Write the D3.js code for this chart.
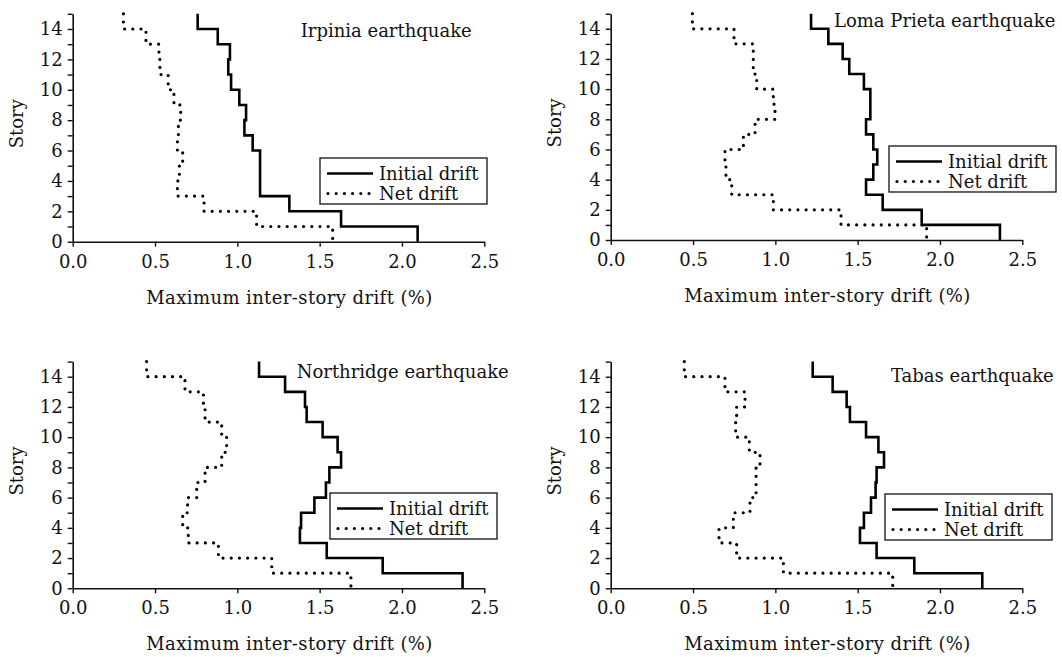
<!DOCTYPE html>
<html>
<head>
<meta charset="utf-8">
<script src="https://cdn.jsdelivr.net/npm/d3@7"></script>
<style>
  html, body { margin: 0; padding: 0; background: #fff; }
  svg text { font-family: "DejaVu Serif", serif; fill: #111; }
</style>
</head>
<body>
<svg id="chart" width="1062" height="657"></svg>
<script>
// ---- Data (story index 0 = bottom, 14 = top) ----
const stories = d3.range(0, 15);
const xTicks = [0, 0.5, 1.0, 1.5, 2.0, 2.5];
const yTicks = d3.range(0, 16);
const yLabelTicks = [0, 2, 4, 6, 8, 10, 12, 14];
const seriesNames = ["Initial drift", "Net drift"];
const titles = ["Irpinia earthquake", "Loma Prieta earthquake", "Northridge earthquake", "Tabas earthquake"];

const irpiniaInitial = [2.095, 1.63, 1.316, 1.138, 1.138, 1.138, 1.093, 1.043, 1.053, 1.012, 0.962, 0.945, 0.955, 0.881, 0.759];
const irpiniaNet     = [1.579, 1.117, 0.798, 0.636, 0.648, 0.668, 0.636, 0.642, 0.656, 0.615, 0.58, 0.53, 0.524, 0.445, 0.308];

const lomaInitial = [2.364, 1.889, 1.652, 1.551, 1.595, 1.619, 1.595, 1.551, 1.577, 1.577, 1.538, 1.449, 1.409, 1.322, 1.217];
const lomaNet     = [1.919, 1.399, 0.988, 0.735, 0.70, 0.694, 0.806, 0.877, 0.998, 0.988, 0.887, 0.866, 0.866, 0.749, 0.496];

const northridgeInitial = [2.368, 1.883, 1.543, 1.38, 1.387, 1.468, 1.538, 1.559, 1.63, 1.609, 1.518, 1.421, 1.411, 1.29, 1.132];
const northridgeNet     = [1.69, 1.209, 0.885, 0.702, 0.668, 0.698, 0.753, 0.804, 0.905, 0.935, 0.905, 0.804, 0.794, 0.682, 0.449];

const tabasInitial = [2.257, 1.844, 1.615, 1.514, 1.538, 1.581, 1.609, 1.615, 1.66, 1.626, 1.551, 1.453, 1.433, 1.348, 1.227];
const tabasNet     = [1.713, 1.049, 0.765, 0.658, 0.745, 0.846, 0.883, 0.883, 0.907, 0.842, 0.759, 0.765, 0.816, 0.694, 0.447];

const panelData = [
  [irpiniaInitial, irpiniaNet],
  [lomaInitial, lomaNet],
  [northridgeInitial, northridgeNet],
  [tabasInitial, tabasNet]
];

// ---- Layout ----
const panels = [
  { x0: 72.7,  x1: 484.3,  yTop: 13.8,  yBot: 241.7, title: { x: 300.7, y: 36.7 }, legend: { x: 320, y: 158 } },
  { x0: 610.7, x1: 1022.3, yTop: 13.7,  yBot: 240.0, title: { x: 834,   y: 26.7 }, legend: { x: 889, y: 146 } },
  { x0: 72.7,  x1: 484.3,  yTop: 361.6, yBot: 588.3, title: { x: 296.7, y: 377.7 }, legend: { x: 330, y: 493 } },
  { x0: 610.7, x1: 1022.3, yTop: 361.6, yBot: 588.3, title: { x: 891,   y: 382.3 }, legend: { x: 885, y: 494 } }
];

const svg = d3.select("#chart");
const FS = 18;

panels.forEach((p, pi) => {
  const x = d3.scaleLinear().domain([0, 2.5]).range([p.x0, p.x1]);
  const y = d3.scaleLinear().domain([0, 15]).range([p.yBot, p.yTop]);
  const g = svg.append("g");

  // step paths
  const line = d3.line().x(d => x(d[0])).y(d => y(d[1]));
  const stepPts = vals => {
    const pts = [];
    for (let i = stories.length - 1; i >= 0; i--) {
      pts.push([vals[i], stories[i] + 1]);
      pts.push([vals[i], stories[i]]);
    }
    return pts;
  };
  const [initial, net] = panelData[pi];

  // x axis
  const xa = g.append("g").attr("transform", `translate(0,${p.yBot})`)
    .call(d3.axisBottom(x).tickValues(xTicks).tickFormat(d3.format(".1f")).tickSize(5).tickSizeOuter(0));
  xa.select(".domain").attr("stroke", "#111").attr("stroke-width", 1.6);
  xa.selectAll(".tick line").attr("stroke", "#111").attr("stroke-width", 1.4);
  xa.selectAll(".tick text").attr("y", 26).attr("dy", null)
    .style("font-size", FS + "px").style("font-family", "DejaVu Serif");

  // y axis
  const ya = g.append("g").attr("transform", `translate(${p.x0},0)`)
    .call(d3.axisLeft(y).tickValues(yTicks).tickFormat(d => yLabelTicks.includes(d) ? d : "").tickSize(5).tickSizeOuter(0).tickPadding(5));
  ya.select(".domain").attr("stroke", "#111").attr("stroke-width", 1.6);
  ya.selectAll(".tick line").attr("stroke", "#111").attr("stroke-width", 1.4);
  ya.selectAll(".tick text").style("font-size", FS + "px").style("font-family", "DejaVu Serif");

  // curves
  g.append("path").attr("d", line(stepPts(initial)))
    .attr("fill", "none").attr("stroke", "#000").attr("stroke-width", 2.6);
  g.append("path").attr("d", line(stepPts(net)))
    .attr("fill", "none").attr("stroke", "#000").attr("stroke-width", 3.2)
    .attr("stroke-linecap", "round").attr("stroke-dasharray", "0 8.2");

  // axis titles
  const cx = (p.x0 + p.x1) / 2 + 11;
  g.append("text").attr("x", cx).attr("y", p.yBot + 62).attr("text-anchor", "middle")
    .style("font-size", FS + "px").style("letter-spacing", "0.4px").text("Maximum inter-story drift (%)");
  const cy = (p.yTop + p.yBot) / 2 - 4;
  g.append("text").attr("transform", `translate(${p.x0 - 56},${cy}) rotate(-90)`)
    .attr("text-anchor", "middle").attr("dy", "0.35em")
    .style("font-size", FS + "px").text("Story");

  // panel title
  g.append("text").attr("x", p.title.x).attr("y", p.title.y)
    .style("font-size", FS + "px").text(titles[pi]);

  // legend
  const L = g.append("g").attr("transform", `translate(${p.legend.x},${p.legend.y})`);
  L.append("rect").attr("width", 167).attr("height", 46)
    .attr("fill", "#fff").attr("stroke", "#111").attr("stroke-width", 1.3);
  const rows = [15.5, 35.5];
  L.append("line").attr("x1", 7).attr("x2", 53).attr("y1", rows[0]).attr("y2", rows[0])
    .attr("stroke", "#000").attr("stroke-width", 2.6);
  L.append("line").attr("x1", 8).attr("x2", 53).attr("y1", rows[1]).attr("y2", rows[1])
    .attr("stroke", "#000").attr("stroke-width", 3.2).attr("stroke-linecap", "round").attr("stroke-dasharray", "0 8.2");
  seriesNames.forEach((n, k) => {
    L.append("text").attr("x", 59).attr("y", rows[k]).attr("dy", "0.35em")
      .style("font-size", FS + "px").text(n);
  });
});
</script>
</body>
</html>
